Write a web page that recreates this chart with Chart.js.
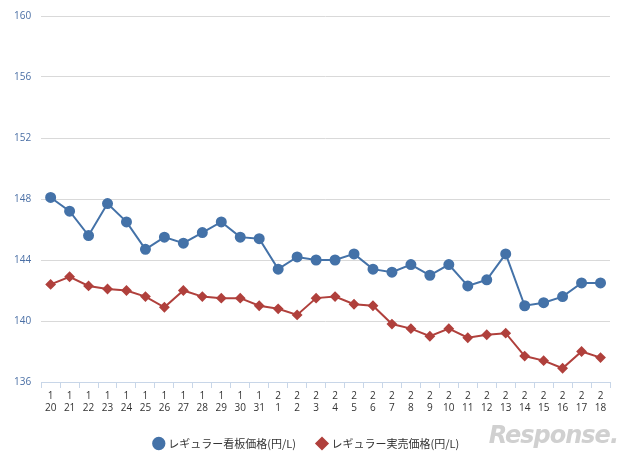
<!DOCTYPE html>
<html>
<head>
<meta charset="utf-8">
<script src="https://cdn.jsdelivr.net/npm/chart.js@4"></script>
<style>
  body { margin: 0; background: #fff; }
  #wrap { position: relative; width: 640px; height: 463px; }
  #logo { position: absolute; right: 22px; bottom: 14px; font: italic bold 24px 'DejaVu Sans', sans-serif; color: #d0d0d0; letter-spacing: -1px; }
</style>
</head>
<body>
<div id="wrap">
  <canvas id="myChart" width="640" height="463"></canvas>
  <div id="logo">Response.</div>
</div>
<script>
const months = ['1','1','1','1','1','1','1','1','1','1','1','1','2','2','2','2','2','2','2','2','2','2','2','2','2','2','2','2','2','2'];
const days = ['20','21','22','23','24','25','26','27','28','29','30','31','1','2','3','4','5','6','7','8','9','10','11','12','13','14','15','16','17','18'];
const signPrice = [148.1, 147.2, 145.6, 147.7, 146.5, 144.7, 145.5, 145.1, 145.8, 146.5, 145.5, 145.4, 143.4, 144.2, 144.0,
    144.0, 144.4, 143.4, 143.2, 143.7, 143.0, 143.7, 142.3, 142.7, 144.4, 141.0, 141.2, 141.6, 142.5, 142.5];
const actualPrice = [142.4, 142.9, 142.3, 142.1, 142.0, 141.6, 140.9, 142.0, 141.6, 141.5, 141.5, 141.0, 140.8, 140.4, 141.5,
    141.6, 141.1, 141.0, 139.8, 139.5, 139.0, 139.5, 138.9, 139.1, 139.2, 137.7, 137.4, 136.9, 138.0, 137.6];

const ctx = document.getElementById('myChart').getContext('2d');
const font = { family: "'Open Sans', sans-serif", size: 10 };

new Chart(ctx, {
    type: 'line',
    data: {
        labels: months.map((m, i) => [m, days[i]]),
        datasets: [{
            label: 'レギュラー看板価格(円/L)',
            data: signPrice,
            borderColor: '#4472a8',
            backgroundColor: '#4472a8',
            borderWidth: 2,
            pointRadius: 4.5,
            tension: 0
        }, {
            label: 'レギュラー実売価格(円/L)',
            data: actualPrice,
            borderColor: '#b0403c',
            backgroundColor: '#b0403c',
            borderWidth: 2,
            pointStyle: 'rectRot',
            pointRadius: 4,
            tension: 0
        }]
    },
    options: {
        responsive: false,
        animation: false,
        layout: { padding: { left: 4, right: 30, top: 6, bottom: 4 } },
        plugins: {
            legend: {
                position: 'bottom',
                labels: {
                    usePointStyle: true,
                    boxWidth: 8,
                    boxHeight: 8,
                    padding: 22,
                    color: '#333',
                    font: { family: "'Noto Sans CJK JP', sans-serif", size: 11 }
                }
            }
        },
        scales: {
            x: {
                offset: true,
                grid: { display: true, drawOnChartArea: false, offset: true, color: '#c8d6e8', tickLength: 6 },
                border: { color: '#c8d6e8' },
                ticks: { color: '#333', font: font, maxRotation: 0, autoSkip: false, padding: 2 }
            },
            y: {
                min: 136, max: 160,
                grid: { color: '#d9d9d9', drawTicks: false },
                border: { display: false },
                ticks: { stepSize: 4, color: '#4a6fa5', font: font, padding: 10 }
            }
        }
    }
});
</script>
</body>
</html>
